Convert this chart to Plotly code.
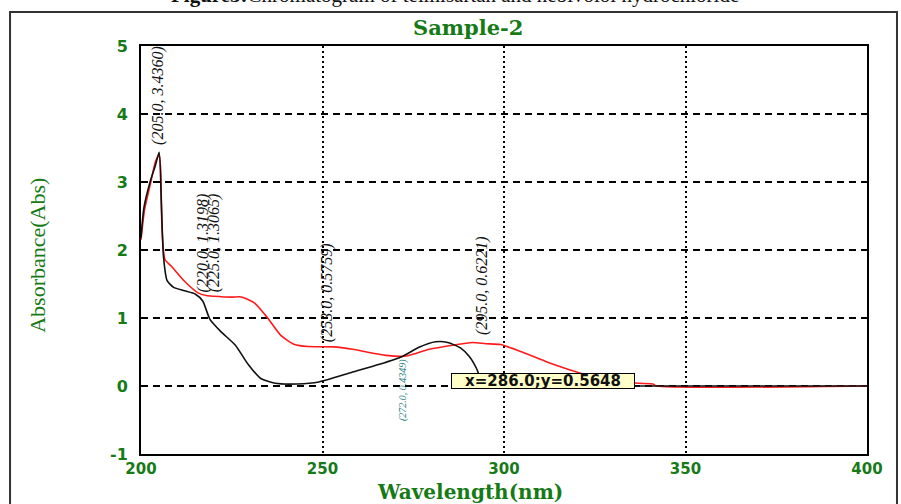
import plotly.graph_objects as go

# ---- data ----
black_wl = [200, 200.8, 202.5, 204, 205, 205.6, 206.2, 207.2, 209, 212, 215, 217, 219, 222, 226,
            229.5, 233, 237, 243, 249, 258, 265.7, 272, 276.6, 281.2, 284.5, 288, 290.5, 292.5,
            294, 296, 320, 400]
black_abs = [2.18, 2.62, 3.00, 3.25, 3.436, 2.70, 1.90, 1.55, 1.45, 1.40, 1.35, 1.25, 0.98, 0.80, 0.60,
             0.32, 0.11, 0.04, 0.03, 0.06, 0.20, 0.32, 0.4349, 0.57, 0.65, 0.64, 0.56, 0.43, 0.25,
             0.05, 0.0, 0.0, 0.0]

red_wl = [200, 201, 202.7, 204, 205, 205.4, 205.8, 206.6, 208.4, 212, 215.7, 218, 220, 225, 227.6,
          231.3, 234.9, 238.6, 242.3, 246, 253, 258.3, 267.5, 273, 279.4, 285.8, 291.3, 295, 299,
          305, 312, 318, 324, 330, 337, 341, 342, 400]
red_abs = [2.15, 2.60, 3.00, 3.30, 3.40, 3.20, 2.30, 1.86, 1.76, 1.54, 1.37, 1.33, 1.3198, 1.3065, 1.31,
           1.22, 1.00, 0.74, 0.61, 0.58, 0.5759, 0.54, 0.45, 0.44, 0.54, 0.60, 0.64, 0.6221, 0.61,
           0.50, 0.35, 0.24, 0.14, 0.08, 0.04, 0.03, 0.0, 0.0]

peak_labels = ["(205.0, 3.4360)", "(220.0, 1.3198)", "(225.0, 1.3065)", "(253.0, 0.5759)", "(295.0, 0.6221)"]
peak_x = [204.7, 217.0, 220.0, 251.2, 293.8]
peak_y = [3.51, 1.35, 1.35, 0.62, 0.72]

cyan_label = "(272.0, 0.4349)"
tooltip_text = "x=286.0;y=0.5648"

x_ticks = [200, 250, 300, 350, 400]
y_ticks = [-1, 0, 1, 2, 3, 4, 5]
y_tick_text = ["-1", "0", "1", "2", "3", "4", "5"]

GREEN = "#167a16"

fig = go.Figure()
fig.add_trace(go.Scatter(x=red_wl, y=red_abs, mode="lines",
                         line=dict(color="#ff1a1a", width=1.6, shape="spline", smoothing=0.6),
                         showlegend=False, hoverinfo="skip"))
fig.add_trace(go.Scatter(x=black_wl, y=black_abs, mode="lines",
                         line=dict(color="#111111", width=1.6, shape="spline", smoothing=0.6),
                         showlegend=False, hoverinfo="skip"))

annotations = []
for t, xv, yv in zip(peak_labels, peak_x, peak_y):
    annotations.append(dict(x=xv, y=yv, xref="x", yref="y", text="<i>" + t + "</i>", showarrow=False,
                            textangle=-90, yanchor="bottom", xanchor="center",
                            font=dict(family="Liberation Serif", size=16, color="#111111")))
annotations.append(dict(x=272.0, y=0.43, xref="x", yref="y", text="<i>" + cyan_label + "</i>",
                        showarrow=False, textangle=-90, yanchor="top", xanchor="center",
                        font=dict(family="Liberation Serif", size=10, color="#1f7f80")))
annotations.append(dict(x=310.7, y=0.07, xref="x", yref="y", text="<b>" + tooltip_text + "</b>",
                        showarrow=False, bgcolor="#ffffc8", bordercolor="#000000", borderwidth=1,
                        borderpad=0, width=182, height=14,
                        font=dict(family="DejaVu Sans", size=15, color="#111111")))
# titles
annotations.append(dict(x=0.45, y=1.045, xref="paper", yref="paper", text="<b>Sample-2</b>",
                        showarrow=False, yanchor="middle",
                        font=dict(family="DejaVu Serif", size=21, color=GREEN)))
annotations.append(dict(x=0.453, y=-0.127, xref="paper", yref="paper", text="<b>Wavelength(nm)</b>",
                        showarrow=False, yanchor="bottom",
                        font=dict(family="DejaVu Serif", size=20, color=GREEN)))
annotations.append(dict(x=-0.142, y=0.488, xref="paper", yref="paper", text="Absorbance(Abs)",
                        showarrow=False, textangle=-90, xanchor="center", yanchor="middle",
                        font=dict(family="Liberation Serif", size=22, color=GREEN)))
annotations.append(dict(x=0.4325, y=1.090, xref="paper", yref="paper",
                        text="<b>Figure3:</b>Chromatogram of telmisartan and nebivolol hydrochloride",
                        showarrow=False, yanchor="bottom",
                        font=dict(family="Liberation Serif", size=21, color="#111111")))

fig.update_layout(
    width=901, height=504,
    margin=dict(l=141, r=34, t=46, b=50),
    paper_bgcolor="white", plot_bgcolor="white",
    annotations=annotations,
    shapes=[dict(type="rect", xref="paper", yref="paper", x0=-0.1804, x1=1.0413, y0=-0.2, y1=1.0833,
                 line=dict(color="#333333", width=2), layer="below")],
)
fig.update_xaxes(range=[200, 400], tickvals=x_ticks, showgrid=True, gridcolor="#000000", gridwidth=2,
                 griddash="2px,3px", zeroline=False, showline=True, linecolor="#000000", linewidth=2,
                 mirror=True, ticks="", ticklabelstandoff=0,
                 tickfont=dict(family="DejaVu Sans", size=15, color=GREEN, weight="bold"))
fig.update_yaxes(range=[-1, 5], tickvals=y_ticks, ticktext=y_tick_text, showgrid=True,
                 gridcolor="#000000", gridwidth=2,
                 griddash="7px,5px", zeroline=False, showline=True, linecolor="#000000", linewidth=2,
                 mirror=True, ticks="", ticklabelstandoff=8,
                 tickfont=dict(family="DejaVu Sans", size=16, color=GREEN, weight="bold"))

fig.write_html("out.html", config={"displayModeBar": False},
               post_script="document.body.style.margin='0';document.body.style.overflow='hidden';")
